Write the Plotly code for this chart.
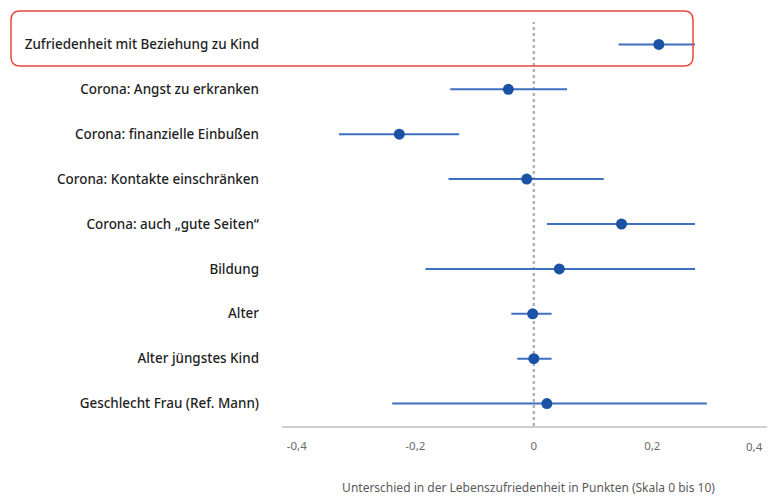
import plotly.graph_objects as go

categories = [
    "Zufriedenheit mit Beziehung zu Kind",
    "Corona: Angst zu erkranken",
    "Corona: finanzielle Einbußen",
    "Corona: Kontakte einschränken",
    "Corona: auch „gute Seiten“",
    "Bildung",
    "Alter",
    "Alter jüngstes Kind",
    "Geschlecht Frau (Ref. Mann)",
]
estimate = [0.211, -0.043, -0.227, -0.012, 0.148, 0.043, -0.002, 0.000, 0.022]
ci_low = [0.143, -0.141, -0.329, -0.144, 0.022, -0.183, -0.038, -0.028, -0.239]
ci_high = [0.272, 0.056, -0.126, 0.118, 0.272, 0.272, 0.030, 0.030, 0.292]

tick_vals = [-0.4, -0.2, 0, 0.2, 0.4]
tick_text = ["-0,4", "-0,2", "0", "0,2", "0,4"]
x_title = "Unterschied in der Lebenszufriedenheit in Punkten (Skala 0 bis 10)"

rows = list(range(len(categories)))
err_plus = [h - e for h, e in zip(ci_high, estimate)]
err_minus = [e - l for l, e in zip(ci_low, estimate)]

OFF = 8  # page body margin
W, H = 775 - OFF, 496 - OFF
ML, MR, MT = 282 - OFF, 0, 22 - OFF
MB = H - (426 - OFF)

fig = go.Figure()
fig.add_trace(go.Scatter(
    x=estimate, y=rows, mode="markers",
    marker=dict(size=11, color="#1c52a6"),
    error_x=dict(type="data", symmetric=False, array=err_plus, arrayminus=err_minus,
                 color="#3f6fc0", thickness=2, width=0),
    hoverinfo="skip", showlegend=False,
))

fig.add_shape(type="line", xref="x", yref="paper", x0=0, x1=0, y0=0, y1=1,
              line=dict(color="#b3b3b3", width=2.5, dash="dot"), layer="below")

# highlight box (rounded) in paper coordinates
pw = W - ML - MR
ph = H - MT - MB
def px2x(p):
    return (p - OFF - ML) / pw
def py2y(p):
    return (H - MB - (p - OFF)) / ph
x0p, x1p, y0p, y1p, r = 11, 693, 11, 66, 9
X0, X1 = px2x(x0p), px2x(x1p)
Y0, Y1 = py2y(y1p), py2y(y0p)
rx, ry = r / pw, r / ph
path = (f"M {X0+rx},{Y1} L {X1-rx},{Y1} Q {X1},{Y1} {X1},{Y1-ry} "
        f"L {X1},{Y0+ry} Q {X1},{Y0} {X1-rx},{Y0} "
        f"L {X0+rx},{Y0} Q {X0},{Y0} {X0},{Y0+ry} "
        f"L {X0},{Y1-ry} Q {X0},{Y1} {X0+rx},{Y1} Z")
fig.add_shape(type="path", xref="paper", yref="paper", path=path,
              line=dict(color="#e5493f", width=1.5))

# last tick label placed so that it stays inside the visible picture
shown_ticks = tick_text[:-1] + [""]
fig.add_annotation(text=tick_text[-1], xref="paper", yref="paper", x=1, y=0,
                   xanchor="right", yanchor="middle", xshift=-10, yshift=-20,
                   showarrow=False, font=dict(size=11.5, color="#6a6a6a"))

fig.update_layout(
    width=W, height=H,
    margin=dict(l=ML, r=MR, t=MT, b=MB, autoexpand=False),
    paper_bgcolor="white", plot_bgcolor="white",
    font=dict(family="Noto Sans", color="#333333"),
    xaxis=dict(
        range=[-0.425, 0.407], tickvals=tick_vals, ticktext=shown_ticks,
        showgrid=False, zeroline=False, showline=True, linecolor="#cfcfcf", linewidth=1.5,
        ticks="", tickfont=dict(size=11.5, color="#6a6a6a"),
        ticklabelstandoff=8, automargin=False,
        title=dict(text=x_title, font=dict(size=12, color="#5a5a5a"), standoff=32),
    ),
    yaxis=dict(
        range=[8.5, -0.5], tickvals=rows, ticktext=categories,
        showgrid=False, zeroline=False, showline=False, ticks="",
        tickfont=dict(size=13.45, color="#1e1e1e", weight=500), ticklabelstandoff=22,
        automargin=False,
    ),
)

fig.write_html("out.html")
